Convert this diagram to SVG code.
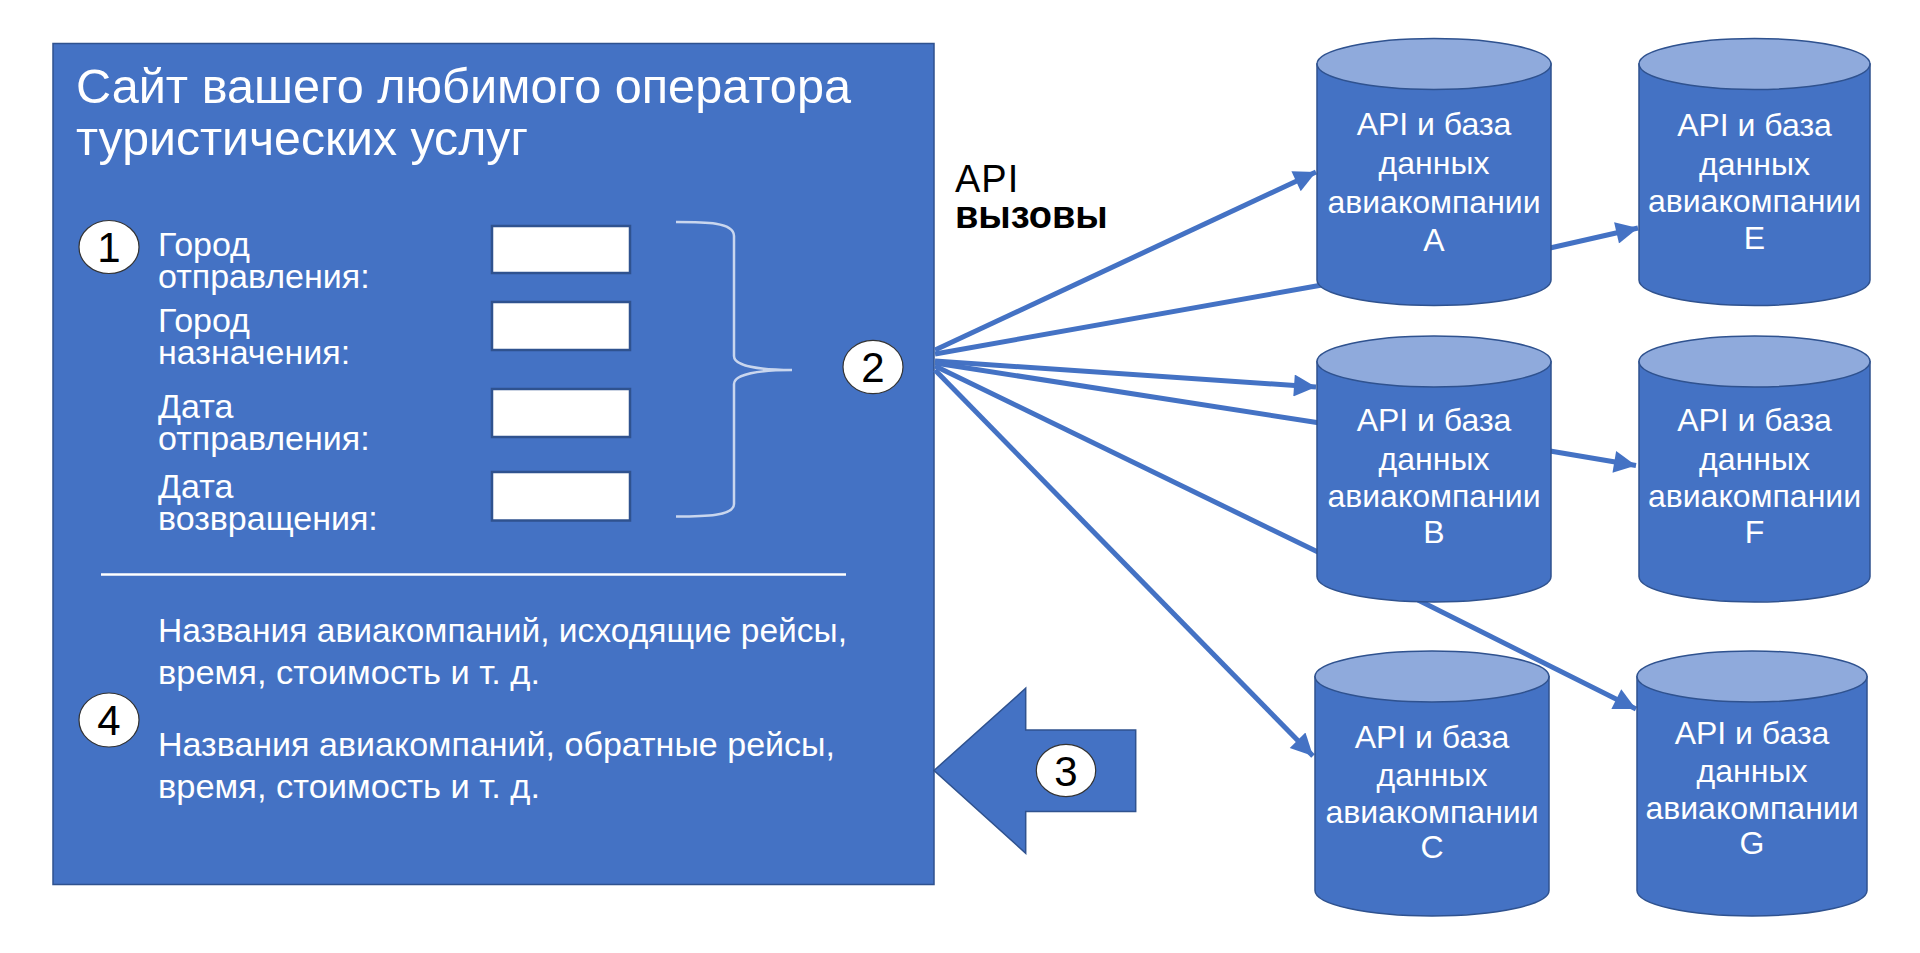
<svg xmlns="http://www.w3.org/2000/svg" width="1920" height="953" viewBox="0 0 1920 953">
<defs>
<style>
text{font-family:"Liberation Sans",Arial,sans-serif}
.w{fill:#fff}
.lbl{font-size:34px;fill:#fff}
.res{font-size:33.5px;fill:#fff}
.cyl{font-size:32px;fill:#fff;text-anchor:middle}
.num{font-size:42px;fill:#000;text-anchor:middle}
.badge{fill:#fff;stroke:#333;stroke-width:1.2}
.body{fill:#4472C4;stroke:#2F528F;stroke-width:1.5}
.cap{fill:#8FAADC;stroke:#2F528F;stroke-width:1.5}
.field{fill:#fff;stroke:#2F528F;stroke-width:2.5}
.conn{stroke:#4472C4;stroke-width:5;fill:none}
</style>
<marker id="ah" viewBox="0 0 10 10" refX="10" refY="5" markerWidth="5" markerHeight="4.4" orient="auto" markerUnits="strokeWidth">
<path d="M0,0 L10,5 L0,10 Z" fill="#4472C4"/>
</marker>
</defs>
<rect width="1920" height="953" fill="#fff"/>

<g id="site">
<rect x="53" y="43.5" width="881" height="841" class="body"/>
<text x="76" y="103" class="w" font-size="49" textLength="775" lengthAdjust="spacingAndGlyphs">Сайт вашего любимого оператора</text>
<text x="76" y="155" class="w" font-size="49" textLength="452" lengthAdjust="spacingAndGlyphs">туристических услуг</text>
<g id="badge1"><ellipse cx="109" cy="247" rx="30" ry="26.5" class="badge"/><text x="109" y="262" class="num">1</text></g>
<text x="158" y="256" class="lbl">Город</text>
<text x="158" y="288" class="lbl">отправления:</text>
<text x="158" y="332" class="lbl">Город</text>
<text x="158" y="364" class="lbl">назначения:</text>
<text x="158" y="418" class="lbl">Дата</text>
<text x="158" y="450" class="lbl">отправления:</text>
<text x="158" y="498" class="lbl">Дата</text>
<text x="158" y="530" class="lbl">возвращения:</text>
<rect x="492" y="226" width="138" height="47" class="field"/>
<rect x="492" y="302" width="138" height="48" class="field"/>
<rect x="492" y="389" width="138" height="48" class="field"/>
<rect x="492" y="472" width="138" height="48.5" class="field"/>
<path d="M676,222 C705,222 734,222 734,236 L734,356 C734,366 760,370 792,370 C760,370 734,374 734,384 L734,504 C734,516 705,516.5 676,516.5" fill="none" stroke="#C9D6EE" stroke-width="2.5"/>
<line x1="101" y1="574.5" x2="846" y2="574.5" stroke="#fff" stroke-width="2.5"/>
<g id="badge4"><ellipse cx="109" cy="720" rx="30" ry="27" class="badge"/><text x="109" y="735" class="num">4</text></g>
<text x="158" y="642" class="res" textLength="689" lengthAdjust="spacingAndGlyphs">Названия авиакомпаний, исходящие рейсы,</text>
<text x="158" y="684" class="res" textLength="382" lengthAdjust="spacingAndGlyphs">время, стоимость и т. д.</text>
<text x="158" y="756" class="res" textLength="677" lengthAdjust="spacingAndGlyphs">Названия авиакомпаний, обратные рейсы,</text>
<text x="158" y="798" class="res" textLength="382" lengthAdjust="spacingAndGlyphs">время, стоимость и т. д.</text>
</g>

<g id="badge2"><ellipse cx="873" cy="367" rx="30" ry="26.7" class="badge"/><text x="873" y="382" class="num">2</text></g>

<g id="api-label">
<text x="955" y="192" font-size="38" fill="#000" letter-spacing="1">API</text>
<text x="955" y="228" font-size="38" font-weight="bold" fill="#000">вызовы</text>
</g>

<g id="connectors">
<line x1="935" y1="350" x2="1316" y2="172" class="conn" marker-end="url(#ah)"/>
<line x1="935" y1="354" x2="1322" y2="285" class="conn"/>
<line x1="935" y1="361" x2="1316" y2="387" class="conn" marker-end="url(#ah)"/>
<line x1="935" y1="363" x2="1320" y2="423" class="conn"/>
<line x1="935" y1="366" x2="1320" y2="553" class="conn"/>
<line x1="935" y1="370" x2="1313" y2="756" class="conn" marker-end="url(#ah)"/>
<line x1="1550" y1="248" x2="1638" y2="228" class="conn" marker-end="url(#ah)"/>
<line x1="1550" y1="451" x2="1636" y2="465.5" class="conn" marker-end="url(#ah)"/>
<line x1="1418" y1="600" x2="1636" y2="709" class="conn" marker-end="url(#ah)"/>
</g>

<g id="db-a">
<path d="M1317,64 L1317,280 A117,25.5 0 0 0 1551,280 L1551,64 Z" class="body"/>
<ellipse cx="1434" cy="64" rx="117" ry="25.5" class="cap"/>
<text x="1434" y="135" class="cyl">API и база</text><text x="1434" y="174" class="cyl">данных</text><text x="1434" y="213" class="cyl">авиакомпании</text><text x="1434" y="251" class="cyl">A</text>
</g>
<g id="db-e">
<path d="M1639,64 L1639,280 A115.5,25.5 0 0 0 1870,280 L1870,64 Z" class="body"/>
<ellipse cx="1754.5" cy="64" rx="115.5" ry="25.5" class="cap"/>
<text x="1754.5" y="136" class="cyl">API и база</text><text x="1754.5" y="175" class="cyl">данных</text><text x="1754.5" y="212" class="cyl">авиакомпании</text><text x="1754.5" y="249" class="cyl">E</text>
</g>
<g id="db-b">
<path d="M1317,361.5 L1317,576.5 A117,25.5 0 0 0 1551,576.5 L1551,361.5 Z" class="body"/>
<ellipse cx="1434" cy="361.5" rx="117" ry="25.5" class="cap"/>
<text x="1434" y="431" class="cyl">API и база</text><text x="1434" y="469.5" class="cyl">данных</text><text x="1434" y="507" class="cyl">авиакомпании</text><text x="1434" y="543" class="cyl">B</text>
</g>
<g id="db-f">
<path d="M1639,361.5 L1639,576.5 A115.5,25.5 0 0 0 1870,576.5 L1870,361.5 Z" class="body"/>
<ellipse cx="1754.5" cy="361.5" rx="115.5" ry="25.5" class="cap"/>
<text x="1754.5" y="431" class="cyl">API и база</text><text x="1754.5" y="469.5" class="cyl">данных</text><text x="1754.5" y="507" class="cyl">авиакомпании</text><text x="1754.5" y="543" class="cyl">F</text>
</g>
<g id="db-c">
<path d="M1315,676.5 L1315,890.5 A117,25.5 0 0 0 1549,890.5 L1549,676.5 Z" class="body"/>
<ellipse cx="1432" cy="676.5" rx="117" ry="25.5" class="cap"/>
<text x="1432" y="748" class="cyl">API и база</text><text x="1432" y="785.5" class="cyl">данных</text><text x="1432" y="823" class="cyl">авиакомпании</text><text x="1432" y="858" class="cyl">C</text>
</g>
<g id="db-g">
<path d="M1637,676.5 L1637,890.5 A115,25.5 0 0 0 1867,890.5 L1867,676.5 Z" class="body"/>
<ellipse cx="1752" cy="676.5" rx="115" ry="25.5" class="cap"/>
<text x="1752" y="744" class="cyl">API и база</text><text x="1752" y="781.5" class="cyl">данных</text><text x="1752" y="819" class="cyl">авиакомпании</text><text x="1752" y="854" class="cyl">G</text>
</g>

<g id="return-arrow">
<polygon points="934,770.5 1025.7,688.3 1025.7,730 1135.7,730 1135.7,811.5 1025.7,811.5 1025.7,853.3" class="body"/>
<ellipse cx="1066" cy="770.5" rx="29.7" ry="26.2" class="badge"/><text x="1066" y="785.5" class="num">3</text>
</g>
</svg>
